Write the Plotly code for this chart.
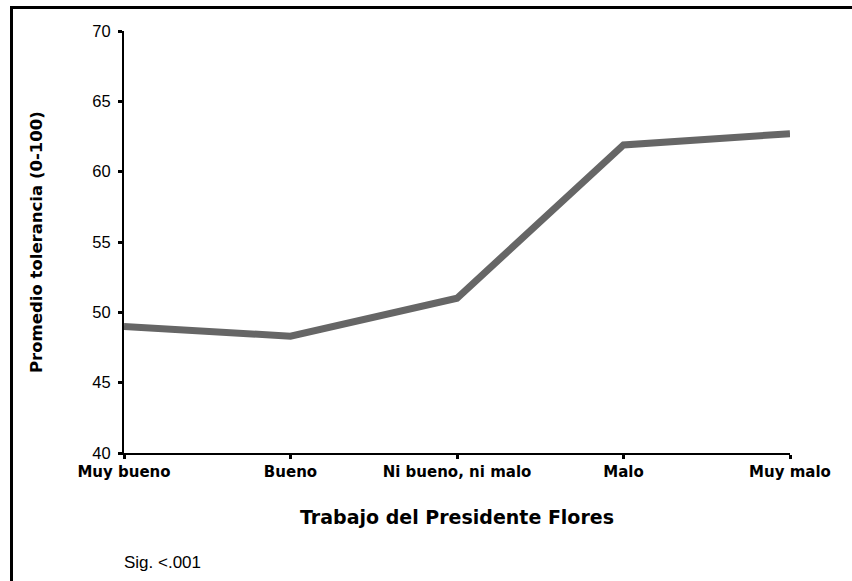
import plotly.graph_objects as go

categories = ["Muy bueno", "Bueno", "Ni bueno, ni malo", "Malo", "Muy malo"]
values = [49.0, 48.3, 51.0, 61.9, 62.7]
y_ticks = [40, 45, 50, 55, 60, 65, 70]

W, H = 852, 581
L, R, T, B = 124, 62, 31, 128
pw, ph = W - L - R, H - T - B

def px_x(x):
    return (x - L) / pw

def px_y(y):
    return (H - B - y) / ph

fig = go.Figure()
fig.add_trace(go.Scatter(
    x=categories, y=values, mode="lines",
    line=dict(color="#666666", width=7),
    showlegend=False, hoverinfo="skip",
))

fig.update_layout(
    width=W, height=H,
    margin=dict(l=L, r=R, t=T, b=B),
    paper_bgcolor="white", plot_bgcolor="white",
    xaxis=dict(
        type="category", range=[0, 4],
        showline=True, linecolor="black", linewidth=2,
        ticks="outside", ticklen=4, tickwidth=3, tickcolor="black",
        showgrid=False, zeroline=False,
        tickfont=dict(family="DejaVu Sans", size=15, color="black", weight="bold"),
    ),
    yaxis=dict(
        range=[40, 70], tickvals=y_ticks,
        showline=True, linecolor="black", linewidth=2,
        ticks="outside", ticklen=4, tickwidth=3, tickcolor="black",
        ticklabelstandoff=4,
        showgrid=False, zeroline=False,
        tickfont=dict(family="Liberation Sans", size=16.5, color="black"),
    ),
    shapes=[dict(
        type="rect", xref="paper", yref="paper",
        x0=px_x(11.5), x1=px_x(880), y0=px_y(620), y1=px_y(7.5),
        line=dict(color="black", width=3), fillcolor="rgba(0,0,0,0)",
        layer="above",
    )],
    annotations=[
        dict(text="Trabajo del Presidente Flores", xref="paper", yref="paper",
             x=0.5, y=px_y(517), xanchor="center", yanchor="middle",
             showarrow=False,
             font=dict(family="DejaVu Sans", size=19, color="black", weight="bold")),
        dict(text="Promedio tolerancia (0-100)", xref="paper", yref="paper",
             x=px_x(36), y=0.5, xanchor="center", yanchor="middle",
             textangle=-90, showarrow=False,
             font=dict(family="DejaVu Sans", size=16.5, color="black", weight="bold")),
        dict(text="Sig. <.001", xref="paper", yref="paper",
             x=px_x(122), y=px_y(562), xanchor="left", yanchor="middle",
             showarrow=False,
             font=dict(family="Liberation Sans", size=17, color="black")),
    ],
)

fig.write_html("out.html", config={"displayModeBar": False},
               post_script="document.body.style.margin='0';")
